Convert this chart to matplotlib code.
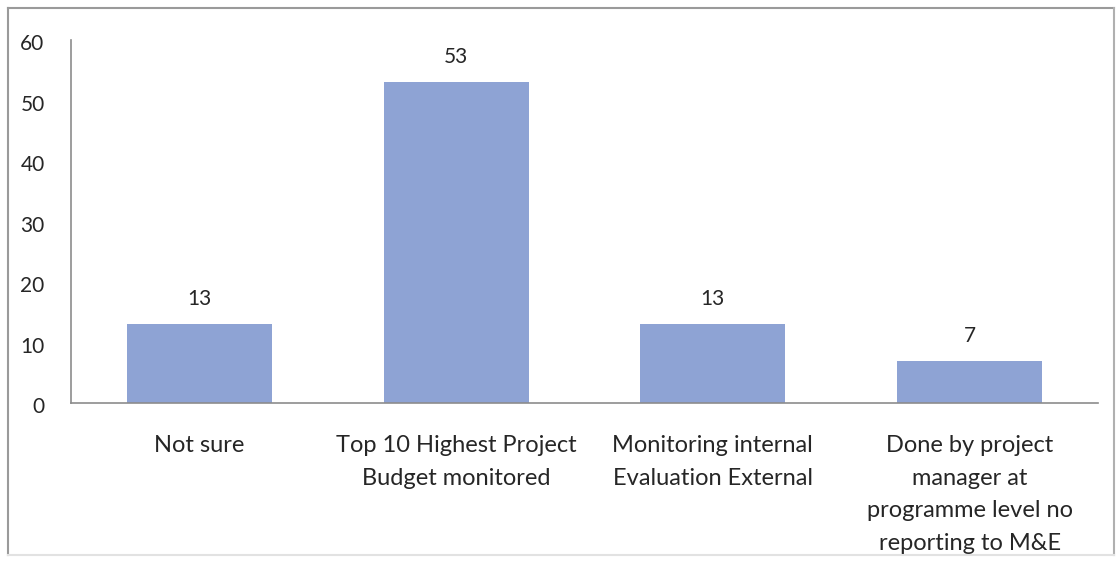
import matplotlib.pyplot as plt
from matplotlib.lines import Line2D
from matplotlib.transforms import ScaledTranslation

categories = [
    "Not sure",
    "Top 10 Highest Project\nBudget monitored",
    "Monitoring internal\nEvaluation External",
    "Done by project\nmanager at\nprogramme level no\nreporting to M&E",
]
values = [13, 53, 13, 7]
y_ticks = [0, 10, 20, 30, 40, 50, 60]

bar_color = "#8EA3D4"
text_color = "#262626"
font = "Lato"

W, H = 1116, 563
fig = plt.figure(figsize=(W / 100, H / 100), dpi=100)
fig.patch.set_facecolor("white")


def fx(px):
    return px / W


def fy(py):
    return 1 - py / H


# outer chart frame: darker left/top/right, faint bottom edge
frame = [((8, 8), (8, 555), "#9a9a9a"),
         ((8, 8), (1114, 8), "#9a9a9a"),
         ((1114, 8), (1114, 555), "#b0b0b0"),
         ((8, 555), (1114, 555), "#e2e2e2")]
for (x0, y0), (x1, y1), c in frame:
    fig.add_artist(Line2D([fx(x0), fx(x1)], [fy(y0), fy(y1)],
                          transform=fig.transFigure, color=c, linewidth=1.5))

ax = fig.add_axes([fx(71), fy(403), fx(1098 - 71), (403 - 40) / H])
x = range(len(categories))
bars = ax.bar(x, values, width=0.565, color=bar_color, zorder=2)

ax.set_xlim(-0.5, len(categories) - 0.5)
ax.set_ylim(0, 60)
ax.set_yticks(y_ticks)
ax.set_yticklabels([str(t) for t in y_ticks], fontsize=15, color=text_color, family=font)
ax.set_xticks(list(x))
ax.set_xticklabels(categories, fontsize=17, color=text_color, family=font,
                   linespacing=1.68, va="top")

ax.tick_params(axis="y", length=0, pad=19)
ax.tick_params(axis="x", length=0, pad=23)
shift_down = ScaledTranslation(0, -3 / 72, fig.dpi_scale_trans)
for lbl in ax.get_yticklabels():
    lbl.set_verticalalignment("center")
    lbl.set_transform(lbl.get_transform() + shift_down)

for s in ("top", "right"):
    ax.spines[s].set_visible(False)
ax.spines["left"].set_color("#8c8c8c")
ax.spines["bottom"].set_color("#8c8c8c")
ax.spines["left"].set_linewidth(1.2)
ax.spines["bottom"].set_linewidth(1.2)

for rect, v in zip(bars, values):
    ax.annotate(str(v), (rect.get_x() + rect.get_width() / 2, v),
                xytext=(0, 18), textcoords="offset points",
                ha="center", va="center", fontsize=15, color=text_color, family=font)

fig.savefig("out.png", dpi=100)
